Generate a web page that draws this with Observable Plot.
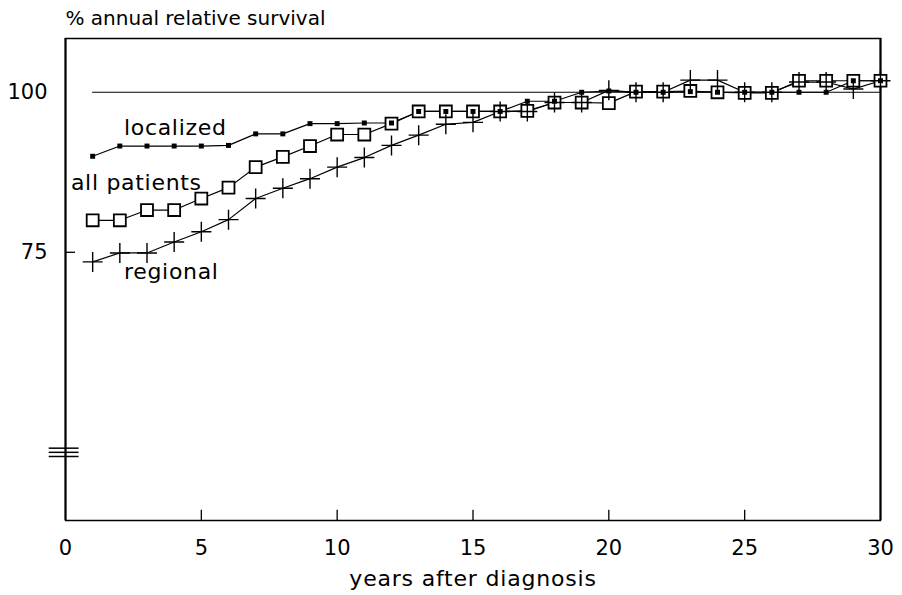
<!DOCTYPE html>
<html>
<head>
<meta charset="utf-8">
<script src="https://cdn.jsdelivr.net/npm/d3@7"></script>
<script src="https://cdn.jsdelivr.net/npm/@observablehq/plot@0.6"></script>
<style>
  html, body { margin: 0; padding: 0; background: #fff; }
</style>
</head>
<body>
<div id="chart"></div>
<script>
const years = [1,2,3,4,5,6,7,8,9,10,11,12,13,14,15,16,17,18,19,20,21,22,23,24,25,26,27,28,29,30];
const localized = [90.0,91.6,91.6,91.6,91.6,91.7,93.5,93.5,95.1,95.1,95.2,95.2,97.0,97.0,97.0,97.0,98.6,98.6,100.0,100.2,100.0,100.0,100.1,100.0,100.0,100.0,100.0,100.0,101.8,101.8];
const allPatients = [80.0,80.0,81.6,81.6,83.4,85.1,88.3,89.9,91.6,93.4,93.4,95.1,97.0,97.0,97.0,97.0,97.1,98.4,98.4,98.3,100.1,100.1,100.2,100.0,99.9,99.9,101.8,101.8,101.8,101.8];
const regional = [73.5,74.9,74.9,76.6,78.2,80.1,83.4,85.0,86.5,88.3,89.8,91.7,93.3,95.0,95.3,97.0,97.0,98.4,98.4,100.3,100.0,100.0,101.9,101.9,100.0,100.0,101.6,101.6,100.5,101.8];

const seriesNames = ["localized", "all patients", "regional"];
const labelX = [2.15, 0.2, 2.15];
const labelY = [94.5, 85.8, 71.9];

const xTicks = [0,5,10,15,20,25,30];
const yTicks = [75,100];
const referenceValue = 100;
const breakValues = [44.4, 43.75, 43.1];

const title = "% annual relative survival";
const xTitle = "years after diagnosis";

const yMin = 33.1, yMax = 108.4;

const rows = (vals) => years.map((yr, i) => ({year: yr, value: vals[i]}));
const locRows = rows(localized);
const allRows = rows(allPatients);
const regRows = rows(regional);
const labelRows = seriesNames.map((n, i) => ({name: n, x: labelX[i], y: labelY[i]}));

const font = "DejaVu Sans";

const chart = Plot.plot({
  width: 902,
  height: 595,
  marginLeft: 65,
  marginRight: 22,
  marginTop: 38,
  marginBottom: 75,
  x: {domain: [0, 30]},
  y: {domain: [yMin, yMax]},
  style: {fontFamily: font, fontSize: "21px", color: "#000", background: "#fff"},
  marks: [
    Plot.frame({stroke: "#000", strokeWidth: 1.5}),
    Plot.ruleX([0], {stroke: "#000", strokeWidth: 2}),
    Plot.ruleX([30], {stroke: "#000", strokeWidth: 2}),
    Plot.axisX(xTicks, {tickSize: 0, tickPadding: 20, label: null, fontSize: 21}),
    Plot.ruleX(xTicks.slice(1, -1), {y1: yMin, y2: yMin + 1.6, stroke: "#000", strokeWidth: 1.3}),
    Plot.axisY(yTicks, {tickSize: 0, tickPadding: 18, label: null, fontSize: 21}),
    Plot.ruleY([75], {x1: 0, x2: 0.37, stroke: "#000", strokeWidth: 1.3}),
    Plot.ruleY(breakValues, {x1: -0.6, x2: 0.5, stroke: "#000", strokeWidth: 1.5}),
    Plot.ruleY([referenceValue], {x1: 1, x2: 30, stroke: "#000", strokeWidth: 1.2}),
    Plot.line(locRows, {x: "year", y: "value", stroke: "#000", strokeWidth: 1.2}),
    Plot.line(allRows, {x: "year", y: "value", stroke: "#000", strokeWidth: 1.2}),
    Plot.line(regRows, {x: "year", y: "value", stroke: "#000", strokeWidth: 1.2}),
    Plot.dot(allRows, {x: "year", y: "value", symbol: "square2", r: 7.6, stroke: "#000", strokeWidth: 1.8, fill: "#fff"}),
    Plot.dot(regRows, {x: "year", y: "value", symbol: "plus", r: 6.5, stroke: "#000", strokeWidth: 1.4}),
    Plot.dot(locRows, {x: "year", y: "value", symbol: "square", r: 2.8, fill: "#000"}),
    Plot.text(labelRows, {x: "x", y: "y", text: "name", textAnchor: "start", lineAnchor: "middle", fontSize: 22, fill: "#000", style: "letter-spacing:0.7px"}),
    Plot.text([title], {frameAnchor: "top-left", text: d => d, textAnchor: "start", lineAnchor: "middle", dy: -20, fontSize: 20, fill: "#000"}),
    Plot.text([xTitle], {frameAnchor: "bottom", text: d => d, lineAnchor: "middle", dy: 58, fontSize: 22, fill: "#000"})
  ]
});
// letter spacing for wide plotter-like lettering
chart.querySelectorAll("text").forEach(t => {
  const fs = parseFloat(t.getAttribute("font-size") || t.parentNode.getAttribute("font-size") || "0");
  if (t.textContent === xTitle) t.setAttribute("letter-spacing", "0.8");
  if (seriesNames.includes(t.textContent)) t.setAttribute("letter-spacing", "0.7");
});
document.getElementById("chart").appendChild(chart);
</script>
</body>
</html>
